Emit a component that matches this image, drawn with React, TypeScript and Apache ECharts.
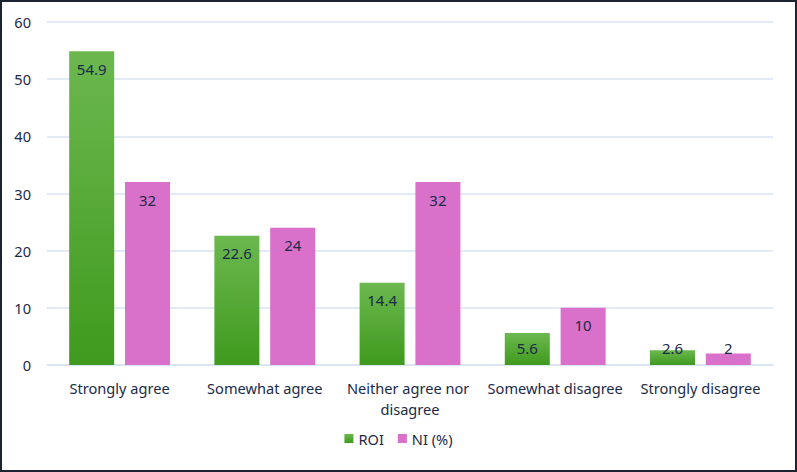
import React, { useEffect, useRef } from "react";
import * as echarts from "echarts";

const categories = [
  "Strongly agree",
  "Somewhat agree",
  "Neither agree nor disagree",
  "Somewhat disagree",
  "Strongly disagree",
];
const roiValues = [54.9, 22.6, 14.4, 5.6, 2.6];
const niValues = [32, 24, 32, 10, 2];
const seriesNames = ["ROI", "NI (%)"];

const TEXT = "#1b2a47";
const GRID = "#d8e3f3";
const FONT = "Noto Sans";
const FS = 14.6;

function makeData(vals: number[]) {
  return vals.map((v) =>
    v < 8
      ? { value: v, label: { position: "insideBottom", distance: 10 } }
      : { value: v }
  );
}

export default function App() {
  const ref = useRef<HTMLDivElement>(null);
  useEffect(() => {
    if (!ref.current) return;
    const chart = echarts.init(ref.current, undefined, { renderer: "svg" });
    const label = {
      show: true,
      position: "insideTop",
      distance: 10,
      color: TEXT,
      fontSize: FS + 0.4,
      fontFamily: FONT,
    };
    chart.setOption({
      animation: false,
      textStyle: { fontFamily: FONT },
      grid: { left: 47, right: 24, top: 22, bottom: 107, containLabel: false },
      legend: {
        bottom: 21,
        left: "center",
        itemWidth: 9,
        itemHeight: 9,
        itemGap: 14,
        icon: "rect",
        textStyle: { color: TEXT, fontSize: FS, fontFamily: FONT },
        data: seriesNames,
      },
      xAxis: {
        type: "category",
        data: categories,
        axisTick: { show: false },
        axisLine: { lineStyle: { color: GRID, width: 1.5 } },
        axisLabel: {
          color: TEXT,
          fontSize: FS,
          fontFamily: FONT,
          margin: 12,
          width: 140,
          overflow: "break",
          lineHeight: 21,
          interval: 0,
        },
      },
      yAxis: {
        type: "value",
        min: 0,
        max: 60,
        interval: 10,
        axisLine: { show: false },
        axisTick: { show: false },
        splitLine: { lineStyle: { color: GRID, width: 1.5 } },
        axisLabel: { color: TEXT, fontSize: FS, fontFamily: FONT, margin: 16 },
      },
      series: [
        {
          name: seriesNames[0],
          type: "bar",
          data: makeData(roiValues),
          barWidth: "31%",
          barGap: "24%",
          itemStyle: {
            color: new echarts.graphic.LinearGradient(0, 0, 0, 1, [
              { offset: 0, color: "#6cb84f" },
              { offset: 1, color: "#3f9a1e" },
            ]),
          },
          label,
        },
        {
          name: seriesNames[1],
          type: "bar",
          data: makeData(niValues),
          barWidth: "31%",
          itemStyle: { color: "#d970c9" },
          label,
        },
      ],
    });
    return () => chart.dispose();
  }, []);
  return (
    <div
      style={{
        position: "fixed",
        left: 0,
        top: 0,
        width: 797,
        height: 472,
        background: "#ffffff",
      }}
    >
      <div ref={ref} style={{ position: "absolute", left: 0, top: 0, width: 797, height: 472 }} />
      <div
        style={{
          position: "absolute",
          left: 0,
          top: 0,
          width: 797,
          height: 472,
          boxSizing: "border-box",
          border: "2px solid #1c2433",
          pointerEvents: "none",
        }}
      />
    </div>
  );
}
